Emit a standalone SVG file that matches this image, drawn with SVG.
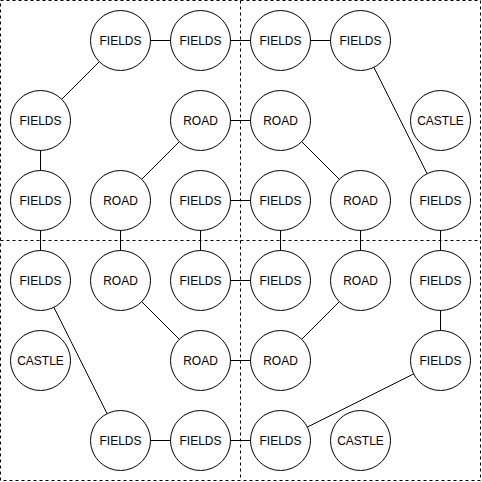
<svg xmlns="http://www.w3.org/2000/svg" width="482" height="482" viewBox="0 0 482 482">
<style>
.n circle{fill:#fff;stroke:#000;stroke-width:1}
.n text{font-family:"Liberation Sans",Arial,sans-serif;font-size:12px;fill:#000;text-anchor:middle;dominant-baseline:central}
.e line{stroke:#000;stroke-width:1}
.g{fill:none;stroke:#000;stroke-width:1;stroke-dasharray:3,3}
</style>
<rect width="482" height="482" fill="#fff"/>
<g id="grid">
<rect class="g" x="0.5" y="0.5" width="480" height="480"/>
<line class="g" x1="240.5" y1="0.5" x2="240.5" y2="480.5"/>
<line class="g" x1="0.5" y1="240.5" x2="480.5" y2="240.5"/>
</g>
<g id="connectors" class="e">
<line x1="120.5" y1="40.5" x2="200.5" y2="40.5"/>
<line x1="200.5" y1="40.5" x2="280.5" y2="40.5"/>
<line x1="280.5" y1="40.5" x2="360.5" y2="40.5"/>
<line x1="120.5" y1="40.5" x2="40.5" y2="120.5"/>
<line x1="360.5" y1="40.5" x2="440.5" y2="200.5"/>
<line x1="40.5" y1="120.5" x2="40.5" y2="200.5"/>
<line x1="200.5" y1="120.5" x2="280.5" y2="120.5"/>
<line x1="200.5" y1="120.5" x2="120.5" y2="200.5"/>
<line x1="280.5" y1="120.5" x2="360.5" y2="200.5"/>
<line x1="200.5" y1="200.5" x2="280.5" y2="200.5"/>
<line x1="40.5" y1="200.5" x2="40.5" y2="280.5"/>
<line x1="120.5" y1="200.5" x2="120.5" y2="280.5"/>
<line x1="200.5" y1="200.5" x2="200.5" y2="280.5"/>
<line x1="280.5" y1="200.5" x2="280.5" y2="280.5"/>
<line x1="360.5" y1="200.5" x2="360.5" y2="280.5"/>
<line x1="440.5" y1="200.5" x2="440.5" y2="280.5"/>
<line x1="200.5" y1="280.5" x2="280.5" y2="280.5"/>
<line x1="120.5" y1="280.5" x2="200.5" y2="360.5"/>
<line x1="360.5" y1="280.5" x2="280.5" y2="360.5"/>
<line x1="440.5" y1="280.5" x2="440.5" y2="360.5"/>
<line x1="40.5" y1="280.5" x2="120.5" y2="440.5"/>
<line x1="200.5" y1="360.5" x2="280.5" y2="360.5"/>
<line x1="440.5" y1="360.5" x2="280.5" y2="440.5"/>
<line x1="120.5" y1="440.5" x2="200.5" y2="440.5"/>
<line x1="200.5" y1="440.5" x2="280.5" y2="440.5"/>
</g>
<g id="n1" class="n"><circle cx="120.5" cy="40.5" r="30"/><text x="120.5" y="40.5">FIELDS</text></g>
<g id="n2" class="n"><circle cx="200.5" cy="40.5" r="30"/><text x="200.5" y="40.5">FIELDS</text></g>
<g id="n3" class="n"><circle cx="280.5" cy="40.5" r="30"/><text x="280.5" y="40.5">FIELDS</text></g>
<g id="n4" class="n"><circle cx="360.5" cy="40.5" r="30"/><text x="360.5" y="40.5">FIELDS</text></g>
<g id="n5" class="n"><circle cx="40.5" cy="120.5" r="30"/><text x="40.5" y="120.5">FIELDS</text></g>
<g id="n6" class="n"><circle cx="200.5" cy="120.5" r="30"/><text x="200.5" y="120.5">ROAD</text></g>
<g id="n7" class="n"><circle cx="280.5" cy="120.5" r="30"/><text x="280.5" y="120.5">ROAD</text></g>
<g id="n8" class="n"><circle cx="440.5" cy="120.5" r="30"/><text x="440.5" y="120.5">CASTLE</text></g>
<g id="n9" class="n"><circle cx="40.5" cy="200.5" r="30"/><text x="40.5" y="200.5">FIELDS</text></g>
<g id="n10" class="n"><circle cx="120.5" cy="200.5" r="30"/><text x="120.5" y="200.5">ROAD</text></g>
<g id="n11" class="n"><circle cx="200.5" cy="200.5" r="30"/><text x="200.5" y="200.5">FIELDS</text></g>
<g id="n12" class="n"><circle cx="280.5" cy="200.5" r="30"/><text x="280.5" y="200.5">FIELDS</text></g>
<g id="n13" class="n"><circle cx="360.5" cy="200.5" r="30"/><text x="360.5" y="200.5">ROAD</text></g>
<g id="n14" class="n"><circle cx="440.5" cy="200.5" r="30"/><text x="440.5" y="200.5">FIELDS</text></g>
<g id="n15" class="n"><circle cx="40.5" cy="280.5" r="30"/><text x="40.5" y="280.5">FIELDS</text></g>
<g id="n16" class="n"><circle cx="120.5" cy="280.5" r="30"/><text x="120.5" y="280.5">ROAD</text></g>
<g id="n17" class="n"><circle cx="200.5" cy="280.5" r="30"/><text x="200.5" y="280.5">FIELDS</text></g>
<g id="n18" class="n"><circle cx="280.5" cy="280.5" r="30"/><text x="280.5" y="280.5">FIELDS</text></g>
<g id="n19" class="n"><circle cx="360.5" cy="280.5" r="30"/><text x="360.5" y="280.5">ROAD</text></g>
<g id="n20" class="n"><circle cx="440.5" cy="280.5" r="30"/><text x="440.5" y="280.5">FIELDS</text></g>
<g id="n21" class="n"><circle cx="40.5" cy="360.5" r="30"/><text x="40.5" y="360.5">CASTLE</text></g>
<g id="n22" class="n"><circle cx="200.5" cy="360.5" r="30"/><text x="200.5" y="360.5">ROAD</text></g>
<g id="n23" class="n"><circle cx="280.5" cy="360.5" r="30"/><text x="280.5" y="360.5">ROAD</text></g>
<g id="n24" class="n"><circle cx="440.5" cy="360.5" r="30"/><text x="440.5" y="360.5">FIELDS</text></g>
<g id="n25" class="n"><circle cx="120.5" cy="440.5" r="30"/><text x="120.5" y="440.5">FIELDS</text></g>
<g id="n26" class="n"><circle cx="200.5" cy="440.5" r="30"/><text x="200.5" y="440.5">FIELDS</text></g>
<g id="n27" class="n"><circle cx="280.5" cy="440.5" r="30"/><text x="280.5" y="440.5">FIELDS</text></g>
<g id="n28" class="n"><circle cx="360.5" cy="440.5" r="30"/><text x="360.5" y="440.5">CASTLE</text></g>
</svg>
